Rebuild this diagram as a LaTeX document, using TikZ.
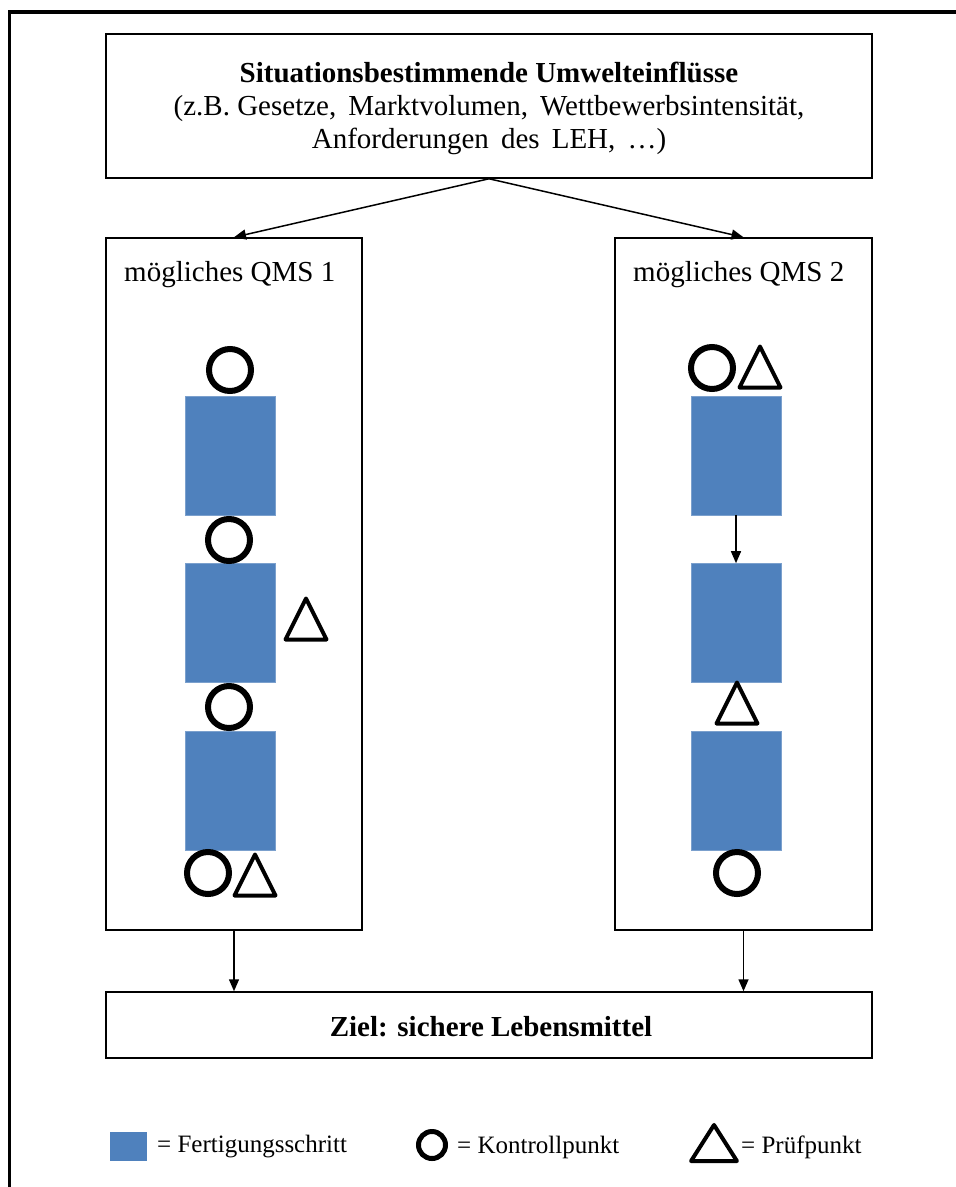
\documentclass[tikz,border=0pt]{standalone}
\usepackage{fontspec}
\setmainfont{Liberation Serif}
\usetikzlibrary{arrows.meta}
\definecolor{stepblue}{HTML}{4F81BD}
\begin{document}
\begin{tikzpicture}[x=1pt,y=-1pt,
  frame/.style={draw,line width=1.5pt,inner sep=0pt},
  conn/.style={line width=1.5pt,-{Triangle[length=12pt,width=10pt]}},
  stepbox/.style={fill=stepblue,draw=stepblue!75!white,line width=0.6pt,
    minimum width=90pt,minimum height=119pt,inner sep=0pt},
  kontroll/.style={circle,draw,line width=6pt,minimum size=42pt,inner sep=0pt},
  txt/.style={font=\fontsize{29}{33}\selectfont,inner sep=0pt},
  legtxt/.style={font=\fontsize{25}{28}\selectfont,inner sep=0pt,anchor=west},
  pruef/.pic={\draw[line width=4pt,line join=round]
    (-20.5,20.5) -- (0,-20.5) -- (20.5,20.5) -- cycle;}
]
\useasboundingbox (0,0) rectangle (956,1187);

% outer frame (top and left edges)
\draw[line width=3.5pt] (9.5,1195) -- (9.5,12) -- (965,12);

% main boxes
\node[frame,minimum width=766pt,minimum height=144pt] (top) at (489,106) {};
\node[txt,align=center] (toptext) at (489,108)
  {\textbf{Situationsbestimmende Umwelteinflüsse}\\
   (z.B. Gesetze,\, Marktvolumen,\, Wettbewerbsintensität,\\
   Anforderungen\, des\, LEH,\, …)};

\node[frame,minimum width=256pt,minimum height=692pt] (qms1) at (234,584) {};
\node[frame,minimum width=257pt,minimum height=692pt] (qms2) at (743.5,584) {};
\node[txt,anchor=base west] (l1) at (124,281) {mögliches QMS 1};
\node[txt,anchor=base west] (l2) at (633,281) {mögliches QMS 2};

\node[frame,minimum width=766pt,minimum height=66pt] (goal) at (489,1025) {};
\node[txt] (goaltext) at (491,1027) {\textbf{Ziel: sichere Lebensmittel}};

% connectors
\draw[conn] (top.south) -- (qms1.north);
\draw[conn] (top.south) -- (qms2.north);
\draw[conn] (qms1.south) -- (qms1.south |- goal.north);
\draw[conn] (qms2.south) -- (qms2.south |- goal.north);

% QMS 1
\node[stepbox] (a1) at (230,455.5) {};
\node[stepbox] (a2) at (230,623) {};
\node[stepbox] (a3) at (230,790.5) {};
\node[kontroll] (ak1) at (230,370) {};
\node[kontroll] (ak2) at (229,540) {};
\node[kontroll] (ak3) at (229,707) {};
\node[kontroll] (ak4) at (208,873) {};
\pic (ap1) at (306,619) {pruef};
\pic (ap2) at (255,875) {pruef};

% QMS 2
\node[stepbox] (b1) at (736,455.5) {};
\node[stepbox] (b2) at (736,623) {};
\node[stepbox] (b3) at (736,790.5) {};
\draw[conn] (b1.south) -- (b2.north);
\node[kontroll] (bk1) at (712,368) {};
\node[kontroll] (bk2) at (737,873) {};
\pic (bp1) at (760,367) {pruef};
\pic (bp2) at (737,703) {pruef};

% legend
\node[fill=stepblue,minimum width=37pt,minimum height=29pt,inner sep=0pt] (legstep) at (128.5,1146.5) {};
\node[legtxt] (legsteptext) at (157,1147) {= Fertigungsschritt};
\node[circle,draw,line width=5pt,minimum size=27pt,inner sep=0pt] (legk) at (432,1145) {};
\node[legtxt] (legktext) at (457,1147) {= Kontrollpunkt};
\pic[xscale=1.12,yscale=0.88] (legp) at (714,1143) {pruef};
\node[legtxt] (legptext) at (741,1147) {= Prüfpunkt};
\end{tikzpicture}
\end{document}
